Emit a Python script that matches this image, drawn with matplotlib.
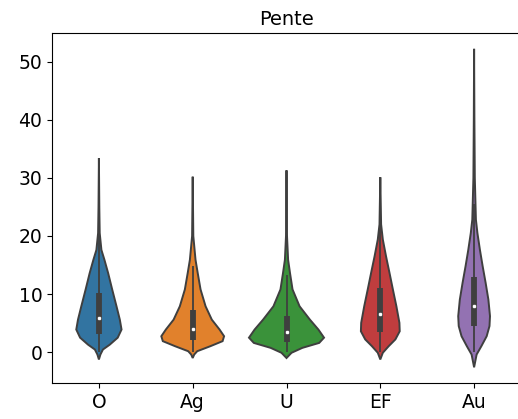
import matplotlib.pyplot as plt

cats = ['O', 'Ag', 'U', 'EF', 'Au']
colors = ['#3274a1', '#e1812c', '#3a923a', '#c03d3e', '#9372b2']

# profils des violons : niveaux y et densite relative
y_O = [-1.25, -0.4, 0.46, 1.3, 2.5, 3.9, 5.6, 7.9, 10.8, 13.6, 15.9, 17.6, 20.5, 25, 33.4]
d_O = [0, 1.5, 4, 10.8, 18.7, 22.5, 20.8, 17.5, 13.2, 9.2, 5.5, 2.5, 0.8, 0.4, 0]
y_Ag = [-1.0, -0.4, 0.17, 1.03, 1.9, 2.75, 3.9, 5.6, 7.9, 10.8, 13.6, 15.9, 20, 30.2]
d_Ag = [0, 1.5, 4.5, 17.5, 29.7, 31.2, 26.7, 19, 12.8, 7.8, 5, 2.8, 0.6, 0]
y_U = [-1.0, -0.1, 0.75, 1.6, 2.5, 3.9, 5.6, 7.9, 10.8, 13.6, 15.9, 20, 31.3]
d_U = [0, 5, 15.8, 32.5, 37.3, 31.7, 23.3, 13, 6, 3.5, 1.6, 0.5, 0]
y_EF = [-1.25, -0.1, 1.03, 2.2, 3.6, 5.05, 7.9, 10.8, 13.6, 16.5, 19.4, 22, 30.1]
d_EF = [0, 2.5, 8.3, 15, 19.3, 19, 16, 12.5, 9.2, 5.7, 2.5, 0.8, 0]
y_Au = [-2.6, -0.4, 1.03, 2.75, 4.5, 6.2, 9.05, 11.9, 14.8, 17.6, 20.5, 22.8, 30, 40, 52.2]
d_Au = [0, 2.5, 7.2, 12.5, 15.3, 15.8, 14.2, 11.5, 8.5, 5.8, 3.3, 1.8, 0.7, 0.3, 0]

# boites interieures
q1 = [3.2, 2.06, 1.7, 3.5, 4.5]
q3 = [10.2, 7.2, 6.3, 11.1, 12.9]
med = [5.9, 4.0, 3.4, 6.5, 8.0]
wlo = [0, 0, 0, 0, 0]
whi = [20.7, 14.9, 13.2, 22.5, 25.5]

profils = [(y_O, d_O), (y_Ag, d_Ag), (y_U, d_U), (y_EF, d_EF), (y_Au, d_Au)]
gris = '#3f3f3f'

fig = plt.figure(figsize=(5.18, 4.19), dpi=100)
ax = fig.add_axes([0.1004, 0.0859, 0.9054, 0.835])

dmax = max(max(d) for _, d in profils)
for i, (ys, ds) in enumerate(profils):
    w = [0.4 * d / dmax for d in ds]
    xs = [i - v for v in w] + [i + v for v in w[::-1]]
    ax.fill(xs, ys + ys[::-1], facecolor=colors[i], edgecolor=gris, linewidth=1.4, zorder=1)
    ax.plot([i, i], [wlo[i], whi[i]], color=gris, linewidth=1.3, zorder=2, solid_capstyle='butt')
    ax.plot([i, i], [q1[i], q3[i]], color=gris, linewidth=4.2, zorder=2, solid_capstyle='butt')
    ax.scatter(i, med[i], s=10, color='white', edgecolor=gris, linewidth=0.5, zorder=3)

ax.set_xticks(range(len(cats)))
ax.set_xticklabels(cats)
ax.set_xlim(-0.5, 4.5)
ax.set_ylim(-5.3, 54.9)
ax.set_yticks([0, 10, 20, 30, 40, 50])
ax.tick_params(labelsize=13.5)
ax.spines['right'].set_visible(False)  # hors cadre dans l'original
ax.set_title('Pente', fontsize=14)

fig.savefig('out.png', dpi=100)
